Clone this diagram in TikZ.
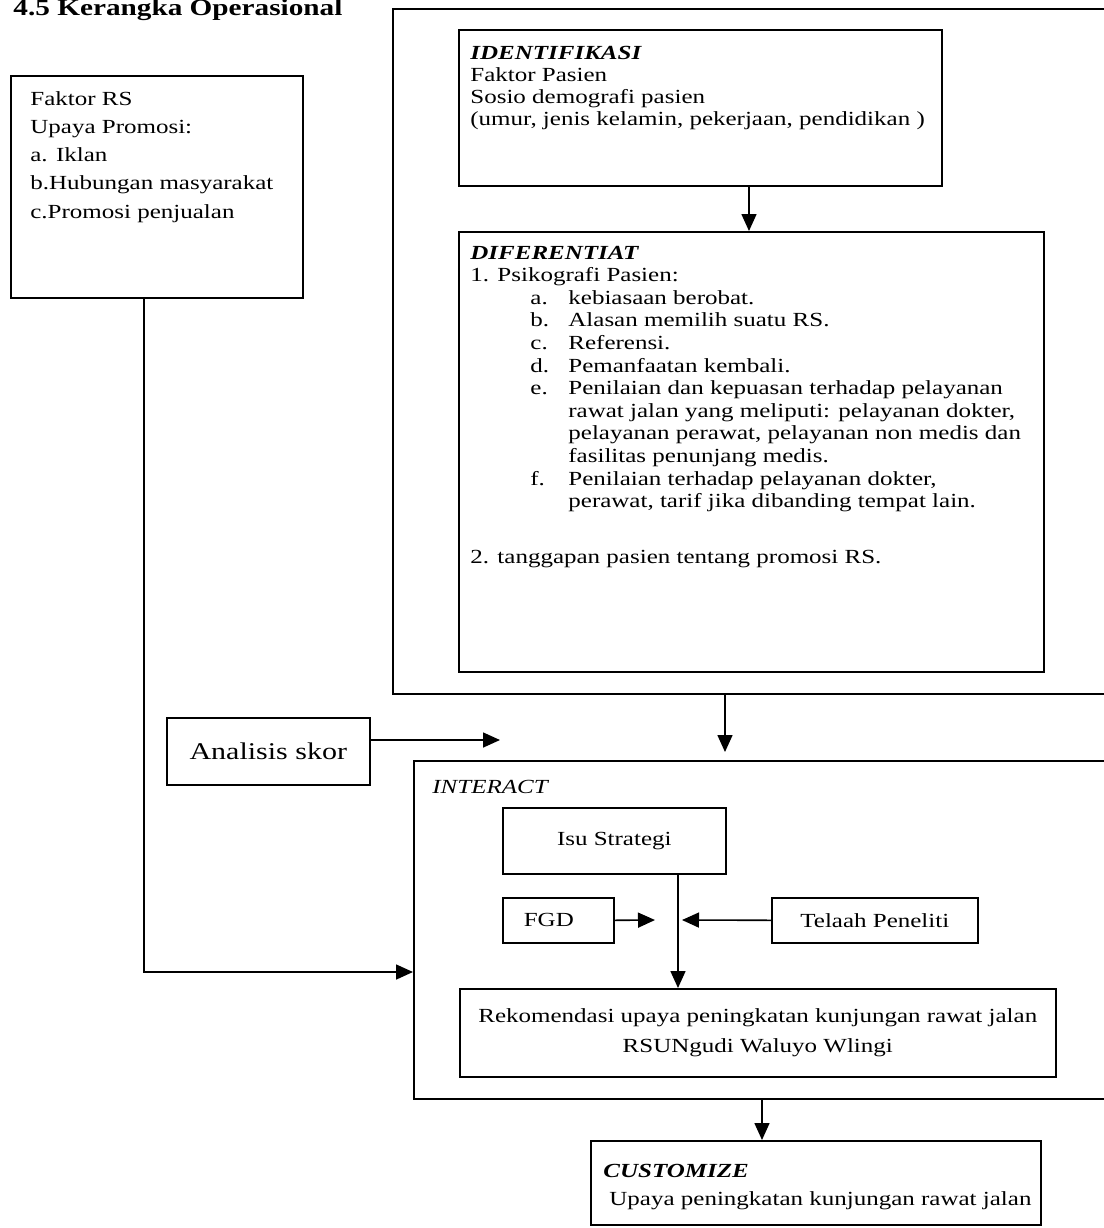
\documentclass[tikz,border=0pt]{standalone}
\usepackage{fontspec}
\setmainfont[FakeStretch=1.25]{Liberation Serif}
\usetikzlibrary{arrows.meta}

\newcommand{\rows}[1]{\begin{tabular}[t]{@{}l@{}}#1\end{tabular}}
\newcommand{\itm}[2]{\hspace*{30pt}\makebox[19pt][l]{#1}#2}
\newcommand{\cont}[1]{\hspace*{49pt}#1}

\tikzset{
  box/.style={draw, line width=0.8pt, inner sep=0pt, anchor=north west},
  sized/.style 2 args={minimum width=#1*0.5pt, minimum height=#2*0.5pt},
  txt/.style={inner sep=0pt, anchor=base west, font=\fontsize{10pt}{11.3pt}\selectfont},
  arr/.style={line width=0.8pt, -{Triangle[length=8.5pt,width=7.5pt]}}
}

\begin{document}
\begin{tikzpicture}[x=0.5pt, y=-0.5pt, font=\fontsize{10pt}{11.3pt}\selectfont]
  \path[use as bounding box, fill=white] (0,0) rectangle (1104,1228);

  \node[anchor=base west, inner sep=0pt, font=\fontsize{11.7pt}{14pt}\selectfont\bfseries]
    (title) at (13,15) {4.5 Kerangka Operasional};

  % faktor RS
  \node[box, sized={292}{222}] (faktor) at (10,75) {};
  \node[txt, font=\fontsize{10pt}{14.15pt}\selectfont] (faktortxt) at (30,105)
    {\rows{Faktor RS\\Upaya Promosi:\\a. Iklan\\b.Hubungan masyarakat\\c.Promosi penjualan}};

  % identifikasi + diferentiat
  \node[box, sized={740}{685}] (outer) at (392,8) {};
  \node[box, sized={483}{156}] (ident) at (458,29) {};
  \node[txt, font=\fontsize{10pt}{11pt}\selectfont] (identtxt) at (470,59)
    {\rows{\textbf{\textit{IDENTIFIKASI}}\\Faktor Pasien\\Sosio demografi pasien\\
     (umur, jenis kelamin, pekerjaan, pendidikan )}};
  \node[box, sized={585}{440}] (dif) at (458,231) {};
  \node[txt] (diftxt) at (470,259)
    {\rows{\textbf{\textit{DIFERENTIAT}}\\
     1. Psikografi Pasien:\\
     \itm{a.}{kebiasaan berobat.}\\
     \itm{b.}{Alasan memilih suatu RS.}\\
     \itm{c.}{Referensi.}\\
     \itm{d.}{Pemanfaatan kembali.}\\
     \itm{e.}{Penilaian dan kepuasan terhadap pelayanan}\\
     \cont{rawat jalan yang meliputi: pelayanan dokter,}\\
     \cont{pelayanan perawat, pelayanan non medis dan}\\
     \cont{fasilitas penunjang medis.}\\
     \itm{f.}{Penilaian terhadap pelayanan dokter,}\\
     \cont{perawat, tarif jika dibanding tempat lain.}\\[16.7pt]
     2. tanggapan pasien tentang promosi RS.}};

  \node[box, sized={203}{67}, font=\fontsize{12pt}{14pt}\selectfont] (anal) at (166,717) {Analisis skor};

  % interact
  \node[box, sized={720}{338}] (interact) at (413,760) {};
  \node[txt] (intlbl) at (432,793) {\textit{INTERACT}};
  \node[box, sized={223}{66}] (isu) at (502,807) {Isu Strategi};
  \node[box, sized={111}{45}, text width=34.5pt, align=left] (fgd) at (502,897) {FGD};
  \node[box, sized={206}{45}] (telaah) at (771,897) {Telaah Peneliti};
  \node[box, sized={596}{88}, align=center, font=\fontsize{10pt}{15pt}\selectfont] (rekom) at (459,988)
    {Rekomendasi upaya peningkatan kunjungan rawat jalan\\RSUNgudi Waluyo Wlingi};

  % customize
  \node[box, sized={450}{84}] (cust) at (590,1140) {};
  \node[txt, font=\fontsize{10pt}{14pt}\selectfont] (custtxt) at (603,1177)
    {\rows{\textbf{\textit{CUSTOMIZE}}\\\hspace*{3pt}Upaya peningkatan kunjungan rawat jalan}};

  \coordinate (xa) at (749,0);
  \coordinate (tipA) at (725,752);
  \coordinate (tipB) at (500,740);
  \coordinate (fk) at (144,972);
  \coordinate (j) at (678,920);
  \coordinate (tipD) at (762,1140);

  \draw[arr] (ident.south -| xa) -- (dif.north -| xa);
  \draw[arr] (outer.south -| tipA) -- (tipA);
  \draw[arr] (anal.east |- tipB) -- (tipB);
  \draw[arr] (faktor.south -| fk) |- (interact.west |- fk);
  \draw[arr] (isu.south -| j) -- (rekom.north -| j);
  \draw[arr] (fgd.east) -- ([xshift=-11.5pt]j);
  \draw[arr] (telaah.west) -- ([xshift=2pt]j);
  \draw[arr] (interact.south -| tipD) -- (cust.north -| tipD);
\end{tikzpicture}
\end{document}
